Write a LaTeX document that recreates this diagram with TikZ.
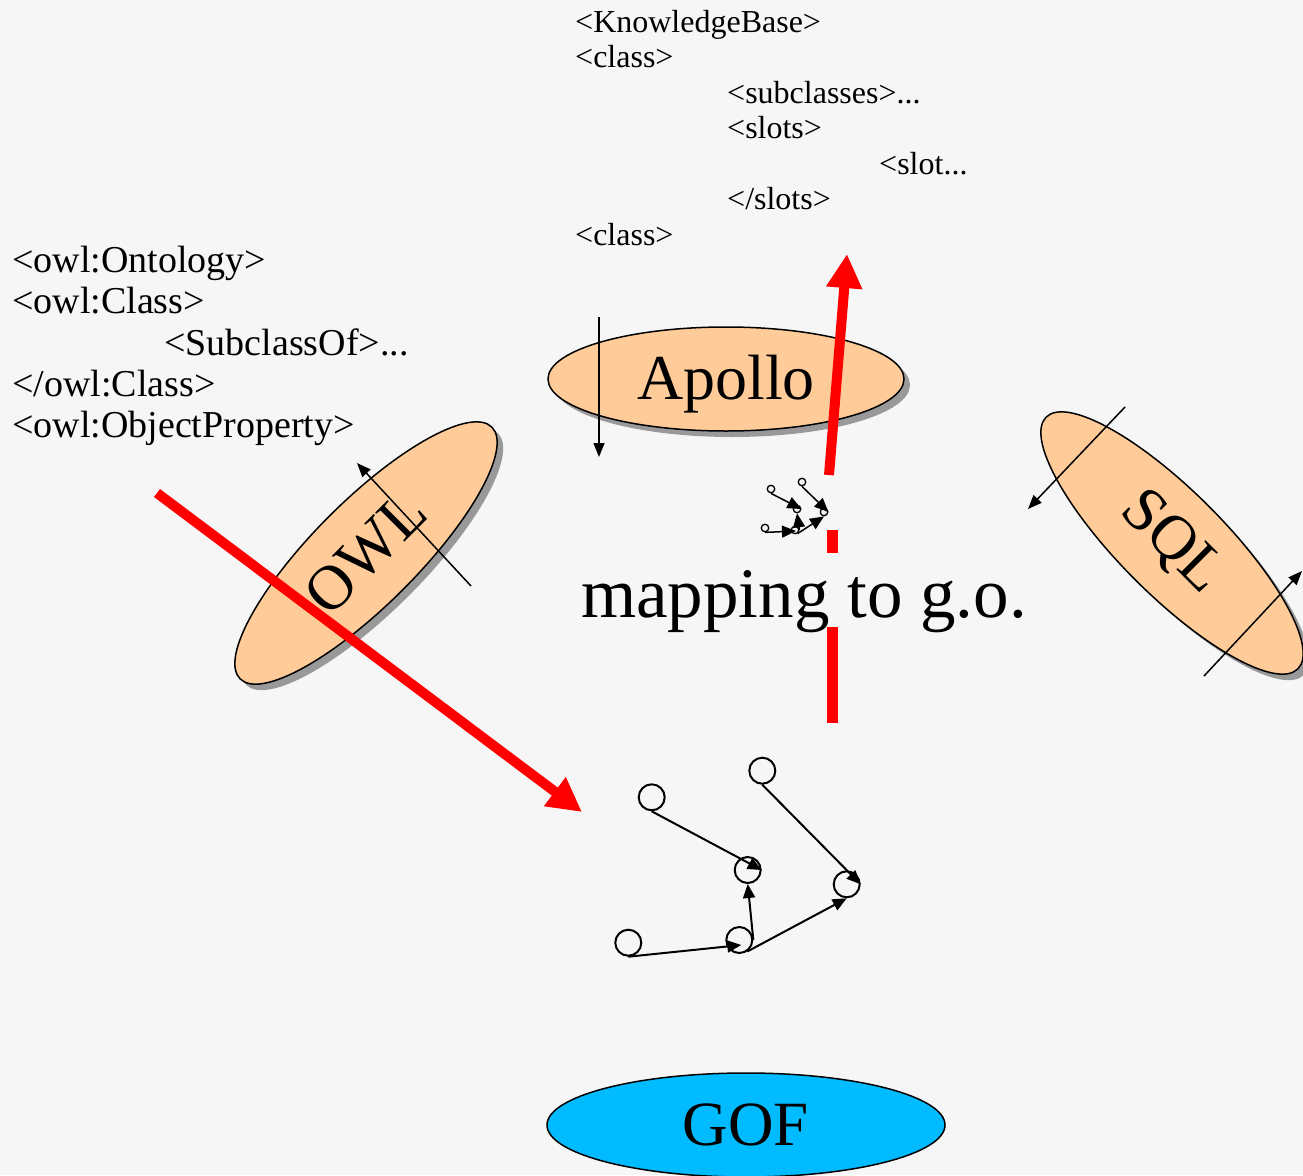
\documentclass[tikz,border=0pt]{standalone}
\usepackage{fontspec}
\setmainfont{Liberation Serif}
\usetikzlibrary{arrows.meta,shapes.geometric,calc}
\definecolor{bgcol}{HTML}{F6F6F6}
\definecolor{peach}{HTML}{FFCC99}
\definecolor{gofblue}{HTML}{00BBFF}
\definecolor{shade}{HTML}{999999}

\begin{document}
\begin{tikzpicture}[x=1pt,y=-1pt,
  code/.style={anchor=base west, inner sep=0pt, font=\fontsize{32}{35}\selectfont},
  owlcode/.style={anchor=base west, inner sep=0pt, font=\fontsize{38}{41}\selectfont},
  blob/.style={ellipse, draw=black, line width=1.5pt, fill=peach, minimum width=356pt,
    minimum height=104pt, inner sep=0pt, font=\fontsize{63}{63}\selectfont},
  blobshadow/.style={ellipse, fill=shade, minimum width=356pt, minimum height=104pt, inner sep=0pt},
  blackarrow/.style={line width=1.5pt, -{Triangle[length=14pt,width=11pt]}},
  redarrow/.style={draw=red, line width=10pt, -{Triangle[length=34pt,width=34pt]}},
  reddash/.style={draw=red, line width=11pt},
  bignode/.style={circle, draw, line width=2pt, minimum size=26pt, inner sep=0pt},
  bigedge/.style={line width=2pt, -{Triangle[length=14pt,width=12pt]}},
  tinynode/.style={circle, draw, line width=1.3pt, minimum size=7.5pt, inner sep=0pt},
  tinyedge/.style={line width=1.5pt, -{Triangle[length=14pt,width=12pt]}},
]
\useasboundingbox (0,0) rectangle (1303,1175);
\fill[bgcol] (0,0) rectangle (1303,1175);

% Apollo knowledge base listing
\node[code] (kb1) at (575,32)  {<KnowledgeBase>};
\node[code] (kb2) at (575,67)  {<class>};
\node[code] (kb3) at (727,103) {<subclasses>...};
\node[code] (kb4) at (727,138) {<slots>};
\node[code] (kb5) at (879,174) {<slot...};
\node[code] (kb6) at (727,209) {</slots>};
\node[code] (kb7) at (575,245) {<class>};

% OWL listing
\node[owlcode] (ow1) at (12,272) {<owl:Ontology>};
\node[owlcode] (ow2) at (12,313) {<owl:Class>};
\node[owlcode] (ow3) at (164,355) {<SubclassOf>...};
\node[owlcode] (ow4) at (12,396) {</owl:Class>};
\node[owlcode] (ow5) at (12,437) {<owl:ObjectProperty>};

% format ellipses with their shadows
\node[blobshadow] (apollosh) at (732,385) {};
\node[blob, font=\fontsize{64}{64}\selectfont, text depth=4pt] (apollo) at (726,379) {Apollo};
\node[blobshadow, rotate=45] (owlsh) at (372,559) {};
\node[blob, rotate=45] (owl) at (366,553) {OWL};
\node[blobshadow, rotate=-45] (sqlsh) at (1178,549) {};
\node[blob, rotate=-45] (sql) at (1172,543) {SQL};
\node[ellipse, draw=black, line width=1.5pt, fill=gofblue, minimum width=398pt,
  minimum height=104pt, inner sep=0pt, font=\fontsize{63}{63}\selectfont] (gof) at (746,1125) {GOF};

% small direction arrows across the ellipses
\coordinate (ap1) at (599,317);
\coordinate (ap2) at (599,457);
\coordinate (ow1a) at (471,586);
\coordinate (ow1b) at (357,463);
\coordinate (sq1a) at (1125,407);
\coordinate (sq1b) at (1028,509);
\coordinate (sq2a) at (1204,676);
\coordinate (sq2b) at (1302,571);
\draw[blackarrow] (ap1) -- (ap2);
\draw[blackarrow] (ow1a) -- (ow1b);
\draw[blackarrow] (sq1a) -- (sq1b);
\draw[blackarrow] (sq2a) -- (sq2b);

% caption
\node[anchor=base west, inner sep=0pt, font=\fontsize{71}{71}\selectfont] (map) at (581,617) {mapping to g.o.};

% red flows
\coordinate (r1a) at (157,493);
\coordinate (r1b) at (582,812);
\coordinate (r2a) at (829,475);
\coordinate (r2b) at (847,254);
\coordinate (d1a) at (832,530);
\coordinate (d1b) at (832,553);
\coordinate (d2a) at (832,627);
\coordinate (d2b) at (832,723);
\draw[redarrow] (r1a) -- (r1b);
\draw[redarrow] (r2a) -- (r2b);
\draw[reddash] (d1a) -- (d1b);
\draw[reddash] (d2a) -- (d2b);

% graph object
\node[bignode] (A) at (651.7,797.3) {};
\node[bignode] (B) at (762.3,770.7) {};
\node[bignode] (C) at (747.7,870) {};
\node[bignode] (D) at (846.7,884.3) {};
\node[bignode] (E) at (628.3,942.7) {};
\node[bignode] (F) at (739.3,940) {};
\draw[bigedge] (A.south) -- (C.east);
\draw[bigedge] (B.south) -- (D.east);
\draw[bigedge] (E.south) -- ($(F.center)+(2,5)$);
\draw[bigedge] (F.east) -- (C.south);
\draw[bigedge] (F.-55) -- (D.south);

% the same graph in miniature
\node[tinynode] (a) at (771,489) {};
\node[tinynode] (b) at (802,482) {};
\node[tinynode] (c) at (797,509) {};
\node[tinynode] (d) at (824,512) {};
\node[tinynode] (e) at (765,528) {};
\node[tinynode] (f) at (795,530) {};
\draw[tinyedge] (a.south) -- (c.east);
\draw[tinyedge] (b.south) -- (d.east);
\draw[tinyedge] (e.south) -- ($(f.center)+(1,1)$);
\draw[tinyedge] (f.east) -- (c.south);
\draw[tinyedge] (f.-55) -- (d.south);
\end{tikzpicture}
\end{document}
